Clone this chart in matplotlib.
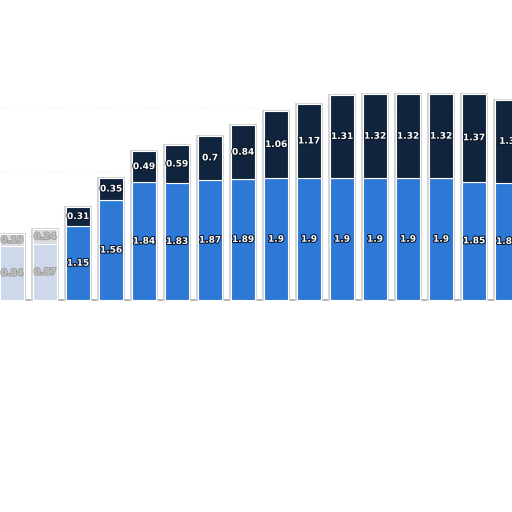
import matplotlib
matplotlib.use("Agg")
import matplotlib.pyplot as plt
import matplotlib.patheffects as pe
import numpy as np

# bottom (blue) and top (navy) segments, left to right
bottom_vals = [0.84, 0.87, 1.15, 1.56, 1.84, 1.83, 1.87, 1.89,
               1.9, 1.9, 1.9, 1.9, 1.9, 1.9, 1.85, 1.83]
top_vals = [0.19, 0.24, 0.31, 0.35, 0.49, 0.59, 0.7, 0.84,
            1.06, 1.17, 1.31, 1.32, 1.32, 1.32, 1.37, 1.3]
faded = [True, True] + [False] * 14

blue = "#2e78d6"
navy = "#10243d"
blue_faded = "#cdd9ea"
navy_faded = "#d9dbde"

fig = plt.figure(figsize=(5.12, 5.12), dpi=100)
ax = fig.add_axes([0, 0, 1, 1])
ax.set_xlim(-0.364, 15.15)
ax.set_ylim(-3.3125, 4.6875)
ax.axis("off")

# faint dotted grid
for g in [1, 2, 3]:
    ax.axhline(g, color="#e8e8e8", lw=0.5, ls=(0, (1, 2)), zorder=0)
ax.plot([-0.4, 15.2], [0, 0], color="#a8a8a8", lw=1.2, zorder=1)

x = np.arange(len(bottom_vals))
w = 0.73
for i in x:
    c1 = blue_faded if faded[i] else blue
    c2 = navy_faded if faded[i] else navy
    ax.bar(i, bottom_vals[i], w, color=c1, edgecolor="white", lw=0.8, zorder=2)
    ax.bar(i, top_vals[i], w, bottom=bottom_vals[i], color=c2,
           edgecolor="white", lw=0.8, zorder=2)
    # grey outline glow
    ax.bar(i, bottom_vals[i] + top_vals[i], w + 0.06, color="none",
           edgecolor="#d4d4d4", lw=1.5, zorder=1.5)
    tc = "#c4c4c4" if faded[i] else "white"
    sc = "#a0a0a0" if faded[i] else "#0a1526"
    fx = [pe.withStroke(linewidth=1.5, foreground=sc)]
    ax.text(i, bottom_vals[i] / 2, f"{bottom_vals[i]:g}", ha="center", va="center",
            fontsize=6.5, fontweight="bold", color=tc, path_effects=fx, zorder=3)
    ax.text(i, bottom_vals[i] + top_vals[i] / 2, f"{top_vals[i]:g}", ha="center",
            va="center", fontsize=6.5, fontweight="bold", color=tc, path_effects=fx, zorder=3)

fig.savefig("out.png", dpi=100, facecolor="white")
